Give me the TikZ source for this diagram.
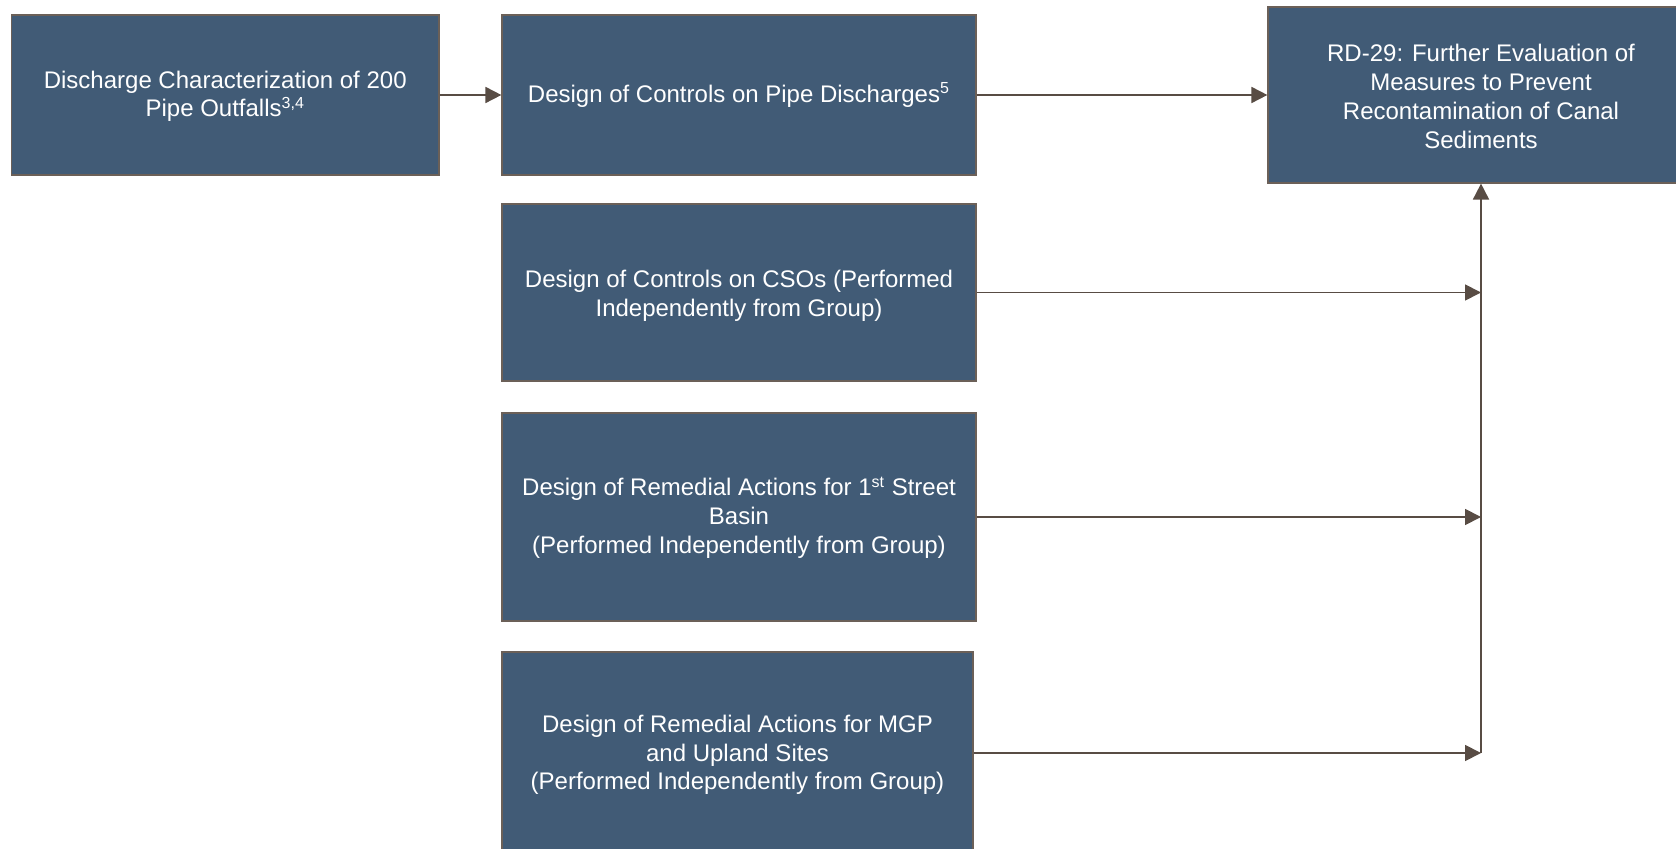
\documentclass[tikz,border=0pt]{standalone}
\usepackage{fontspec}
\setmainfont{Liberation Sans}
\usetikzlibrary{arrows.meta}
\definecolor{boxblue}{HTML}{415B76}
\definecolor{boxedge}{HTML}{6B6058}
\definecolor{linkbrown}{HTML}{584C44}
\begin{document}
\begin{tikzpicture}[x=0.5pt,y=-0.5pt,
  task/.style={draw=boxedge, line width=0.6pt, fill=boxblue, text=white,
    align=center, inner sep=0pt, font=\fontsize{12pt}{14.4pt}\selectfont},
  link/.style={draw=linkbrown, line width=0.9pt,
    -{Triangle[length=8pt,width=8pt]}}]
\useasboundingbox (0,0) rectangle (1676,849);
\clip (0,0) rectangle (1676,849);

% task boxes
\node[task, minimum width=213.75pt, minimum height=80pt] (dc) at (225.25,95)
  {\strut Discharge Characterization of 200\\Pipe Outfalls\textsuperscript{3,4}};
\node[task, minimum width=237pt, minimum height=80pt] (pipe) at (739,95)
  {Design of Controls on Pipe Discharges\textsuperscript{5}};
\node[task, minimum width=213pt, minimum height=88pt] (rd) at (1481,95)
  {\strut RD-29: Further Evaluation of\\Measures to Prevent\\Recontamination of Canal\\Sediments};
\node[task, minimum width=237pt, minimum height=88.5pt] (cso) at (739,292.5)
  {\rule{0pt}{12pt}Design of Controls on CSOs (Performed\\Independently from Group)};
\node[task, minimum width=237pt, minimum height=104pt] (basin) at (739,517)
  {\strut Design of Remedial Actions for 1\textsuperscript{st} Street\\Basin\\(Performed Independently from Group)};
\node[task, minimum width=235.5pt, minimum height=101.5pt] (mgp) at (737.5,753.5)
  {\strut Design of Remedial Actions for MGP\\and Upland Sites\\(Performed Independently from Group)};

% junctions on the collector line
\coordinate (jcso) at (1481,292.5);
\coordinate (jbasin) at (1481,517);
\coordinate (jmgp) at (1481,753);

% connectors
\draw[link] (dc.east) -- (pipe.west);
\draw[link] (pipe.east) -- (rd.west);
\draw[link] (cso.east) -- (jcso);
\draw[link] (basin.east) -- (jbasin);
\draw[link] (mgp.east |- jmgp) -- (jmgp);
\draw[link] (jmgp) -- (rd.south);
\end{tikzpicture}
\end{document}
